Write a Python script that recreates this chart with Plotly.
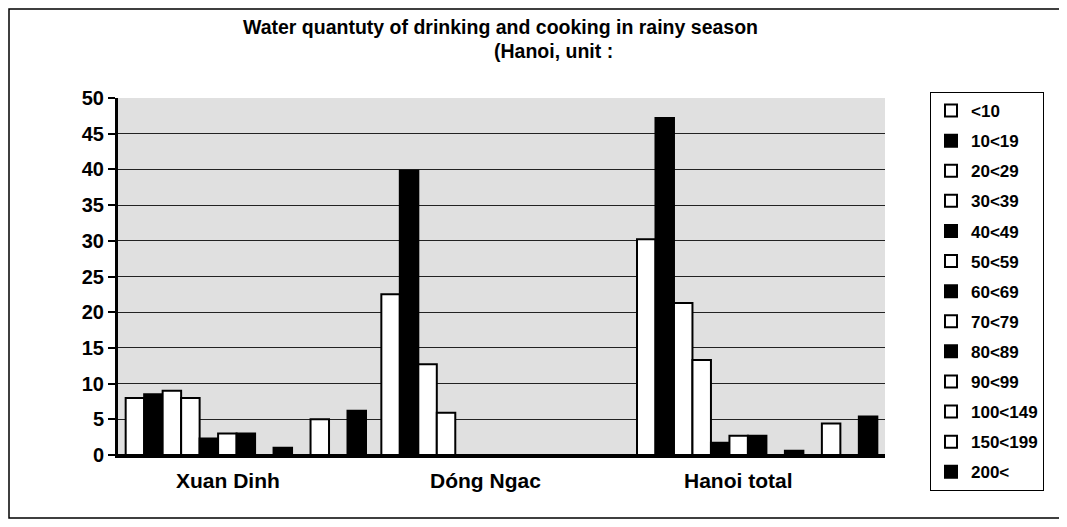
import plotly.graph_objects as go

categories = ["Xuan Dinh", "Dóng Ngac", "Hanoi total"]
series_names = ["<10", "10<19", "20<29", "30<39", "40<49", "50<59", "60<69",
                "70<79", "80<89", "90<99", "100<149", "150<199", "200<"]
series_fill = ["white", "black", "white", "white", "black", "white", "black",
               "white", "black", "white", "white", "white", "black"]
xuan_dinh = [8, 8.5, 9, 8, 2.3, 3, 3, 0, 1, 0, 5, 0, 6.2]
dong_ngac = [22.5, 39.8, 12.7, 5.9, 0, 0, 0, 0, 0, 0, 0, 0, 0]
hanoi_total = [30.2, 47.2, 21.3, 13.3, 1.7, 2.7, 2.7, 0, 0.6, 0, 4.4, 0, 5.4]
y_ticks = [0, 5, 10, 15, 20, 25, 30, 35, 40, 45, 50]
title_line1 = "Water quantuty of drinking and cooking in rainy season"
title_line2 = "(Hanoi, unit :"

# page body has an 8px margin; figure is sized so it ends at the window edge
OFF = 8
W, H = 1067 - OFF, 527 - OFF
L, R, T, B = 118, 885, 98, 455   # plot area in window pixels
pw, ph = R - L, B - T

def px(x):
    return (x - L) / pw

def py(y):
    return (B - y) / ph

fig = go.Figure()
for i, name in enumerate(series_names):
    vals = [xuan_dinh[i], dong_ngac[i], hanoi_total[i]]
    fig.add_trace(go.Bar(
        x=categories, y=vals, name=name, legendgroup=name,
        marker=dict(color=series_fill[i], line=dict(color="black", width=2)),
    ))

font_b = dict(family="Liberation Sans", color="black")

label_x = [228, 485, 738]
annotations = [
    dict(text=title_line1, xref="paper", yref="paper", x=px(500), y=py(27),
         xanchor="center", yanchor="middle", showarrow=False,
         font=dict(size=19.5, weight="bold", **font_b)),
    dict(text=title_line2, xref="paper", yref="paper", x=px(492), y=py(51),
         xanchor="left", yanchor="middle", showarrow=False,
         font=dict(size=19.5, weight="bold", **font_b)),
]
for cat, lx in zip(categories, label_x):
    annotations.append(dict(text=cat, xref="paper", yref="paper", x=px(lx), y=py(480),
                            xanchor="center", yanchor="middle", showarrow=False,
                            font=dict(size=21, weight="bold", **font_b)))

fig.update_layout(
    width=W, height=H,
    margin=dict(l=L - OFF, r=W - (R - OFF), t=T - OFF, b=H - (B - OFF), autoexpand=False),
    paper_bgcolor="white",
    plot_bgcolor="#e0e0e0",
    barmode="group", bargap=0.06, bargroupgap=0,
    showlegend=True,
    legend=dict(
        x=px(930), y=py(92), xanchor="left", yanchor="top",
        bordercolor="black", borderwidth=1, bgcolor="white",
        font=dict(size=17, weight="bold", **font_b),
        tracegroupgap=5, itemwidth=30, maxheight=600,
    ),
    xaxis=dict(
        showgrid=False, showline=True, linecolor="black", linewidth=3,
        ticks="", showticklabels=False,
    ),
    yaxis=dict(
        range=[0, 50], tickvals=y_ticks, showgrid=True, gridcolor="#222222", gridwidth=1,
        showline=True, linecolor="black", linewidth=3, ticks="outside", ticklen=7,
        tickcolor="black", tickwidth=1.5, zeroline=True, zerolinecolor="black", zerolinewidth=3,
        tickfont=dict(size=20, weight="bold", **font_b),
    ),
    annotations=annotations,
    shapes=[
        dict(type="rect", xref="paper", yref="paper",
             x0=px(9), x1=px(1075), y0=py(518), y1=py(9),
             line=dict(color="black", width=1.5), layer="below"),
    ],
)

fig.write_html("out.html")
